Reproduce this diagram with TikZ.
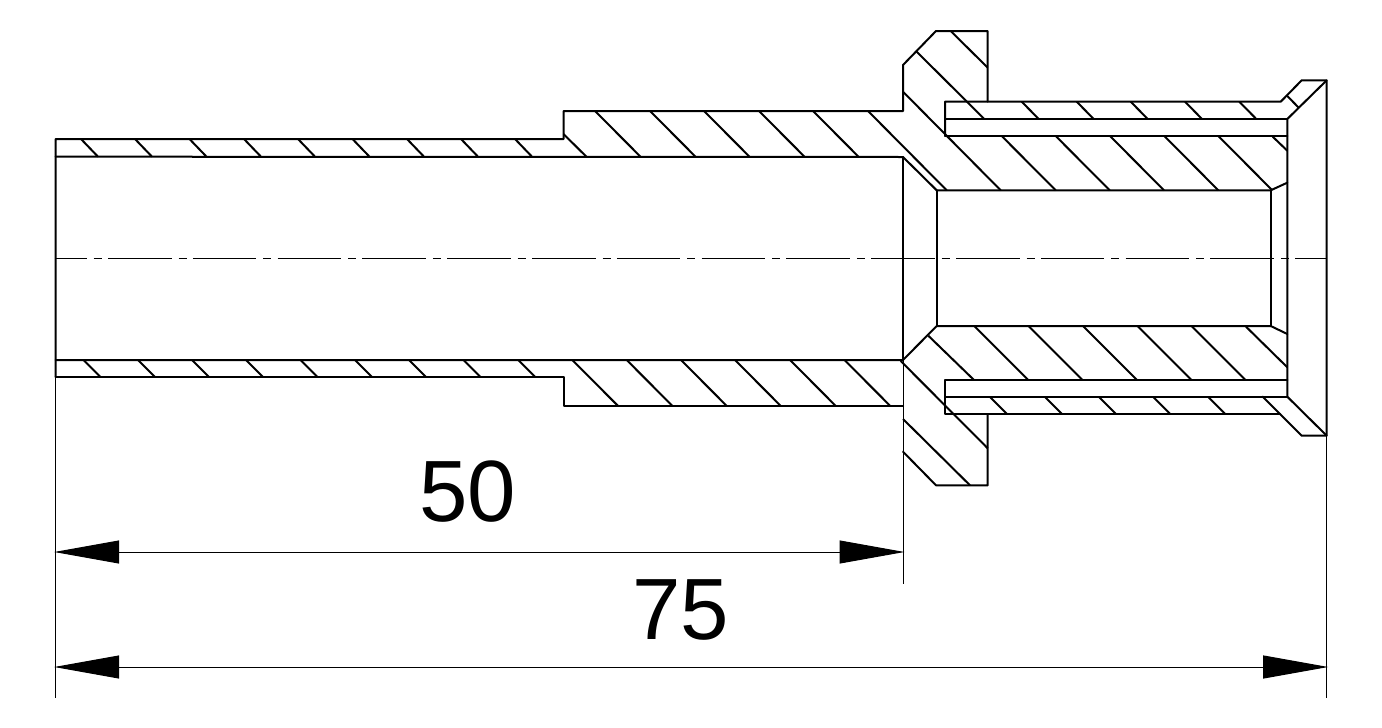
\documentclass[tikz,border=0pt]{standalone}
\usepackage{fontspec}
\setmainfont{Liberation Sans}
\usetikzlibrary{arrows.meta}
\tikzset{
  thick line/.style={line width=2pt,line cap=round,line join=round},
  hatch line/.style={line width=2pt},
  thin line/.style={line width=1pt},
  axis line/.style={line width=1pt,dash pattern=on 63.5pt off 7pt on 8pt off 6.3pt,dash phase=32.5pt},
  dim line/.style={line width=1pt,{Triangle[length=65pt,width=23pt]}-{Triangle[length=65pt,width=23pt]},shorten <=-1.5pt,shorten >=-1.5pt},
  dim text/.style={inner sep=0pt,font=\fontsize{87}{87}\selectfont}
}
\begin{document}
\begin{tikzpicture}[x=1pt,y=-1pt]
\useasboundingbox (0,0) rectangle (1382,728);
% named points
\coordinate (L) at (55.7,139);
\coordinate (LB) at (55.7,377);
\coordinate (Lend) at (55.7,698);
\coordinate (F) at (903,157);
\coordinate (Fend) at (903,584);
\coordinate (R) at (1326.7,80.3);
\coordinate (RB) at (1326.7,435.7);
\coordinate (Rend) at (1326.7,698);
\coordinate (d1a) at (55.7,552);
\coordinate (d1b) at (903,552);
\coordinate (d2a) at (55.7,667);
\coordinate (d2b) at (1326.7,667);
\coordinate (ca) at (55.7,258.3);
\coordinate (cb) at (1326.7,258.3);
% outline, upper half
\draw[thick line] (LB) -- (L) -- (563.5,139) -- (563.5,111) -- (903,111) -- (903,65) -- (936,31) -- (987.7,31) -- (987.7,101.7);
\draw[thick line] (55.7,156.7) -- (F);
\draw[thick line] (945,136) -- (945,101.7) -- (1280.7,101.7) -- (1301.7,80.3) -- (R) -- (RB) -- (1301.7,435.7) -- (1262.7,396.7);
\draw[thick line] (945,119) -- (1287.3,119);
\draw[thick line] (945,136) -- (1287.3,136);
\draw[thick line] (R) -- (1287.3,119) -- (1287.3,396.7) -- (RB);
\draw[thick line] (F) -- (903,360);
\draw[thick line] (F) -- (936.7,190.3) -- (1270.7,190.3) -- (1287.3,182.7);
\draw[thick line] (936.7,190.3) -- (936.7,326);
\draw[thick line] (1270.7,190.3) -- (1270.7,326);
% outline, lower half
\draw[thick line] (55.7,360) -- (903,360) -- (936.7,326) -- (1270.7,326) -- (1287.3,334);
\draw[thick line] (LB) -- (564,377) -- (564,405.7) -- (903,405.7);
\draw[thick line] (945,380) -- (1287.3,380);
\draw[thick line] (945,396.7) -- (1287.3,396.7);
\draw[thick line] (945,380) -- (945,414) -- (1280,414);
\draw[thick line] (987.7,414) -- (987.7,485.3) -- (936,485.3) -- (903,451.7);
% hatching, thin wall
\foreach \x in {81,135,189.5,244,298,352.5,407,461,515}
  \draw[hatch line] (\x,139) -- (\x+17,156.7);
\foreach \x in {83.5,138,192,246,300.5,355,409,463.5,518.3}
  \draw[hatch line] (\x,360) -- (\x+17,377);
% hatching, thick wall
\draw[hatch line] (563.5,134) -- (586.7,157);
\foreach \x in {595,650,704,759,813}
  \draw[hatch line] (\x,111) -- (\x+45.5,156.7);
\foreach \x in {572.3,626.7,681,735,790,844.5}
  \draw[hatch line] (\x,360) -- (\x+45.5,405.7);
% hatching, flange
\draw[hatch line] (950.7,31) -- (987.7,67.7);
\draw[hatch line] (916.7,51.7) -- (984.3,119);
\draw[hatch line] (903,91.7) -- (1000.7,190.3);
\draw[hatch line] (868,111) -- (946.7,190.3);
\draw[hatch line] (928.3,335.7) -- (974,380);
\draw[hatch line] (900.7,361) -- (987.7,448.3);
\draw[hatch line] (903,419) -- (970,485.3);
% hatching, right part
\foreach \x in {1021.7,1076.7,1130.7,1185,1239.3}
  \draw[hatch line] (\x,101.7) -- (\x+17,119);
\foreach \x in {1001.7,1055.7,1110,1164.3,1218.3}
  \draw[hatch line] (\x,136) -- (\x+54,190.3);
\draw[hatch line] (1272.7,136.7) -- (1287.3,150.7);
\draw[hatch line] (1287.3,96) -- (1298.3,107.3);
\foreach \x in {974.3,1028.5,1083,1137.5,1191.5}
  \draw[hatch line] (\x,326) -- (\x+54,380);
\draw[hatch line] (1246,326.7) -- (1287.3,367.3);
\foreach \x in {990,1045,1099,1153.3,1208.3}
  \draw[hatch line] (\x,397) -- (\x+17,414);
% extension and axis lines
\draw[thin line] (LB) -- (Lend);
\draw[thin line] (903,360) -- (Fend);
\draw[thin line] (RB) -- (Rend);
\draw[axis line] (ca) -- (cb);
% dimensions
\draw[dim line] (d1a) -- (d1b);
\draw[dim line] (d2a) -- (d2b);
\node[dim text] (t50) at (467.5,491.5) {50};
\node[dim text] (t75) at (680.5,610) {75};
\end{tikzpicture}
\end{document}
